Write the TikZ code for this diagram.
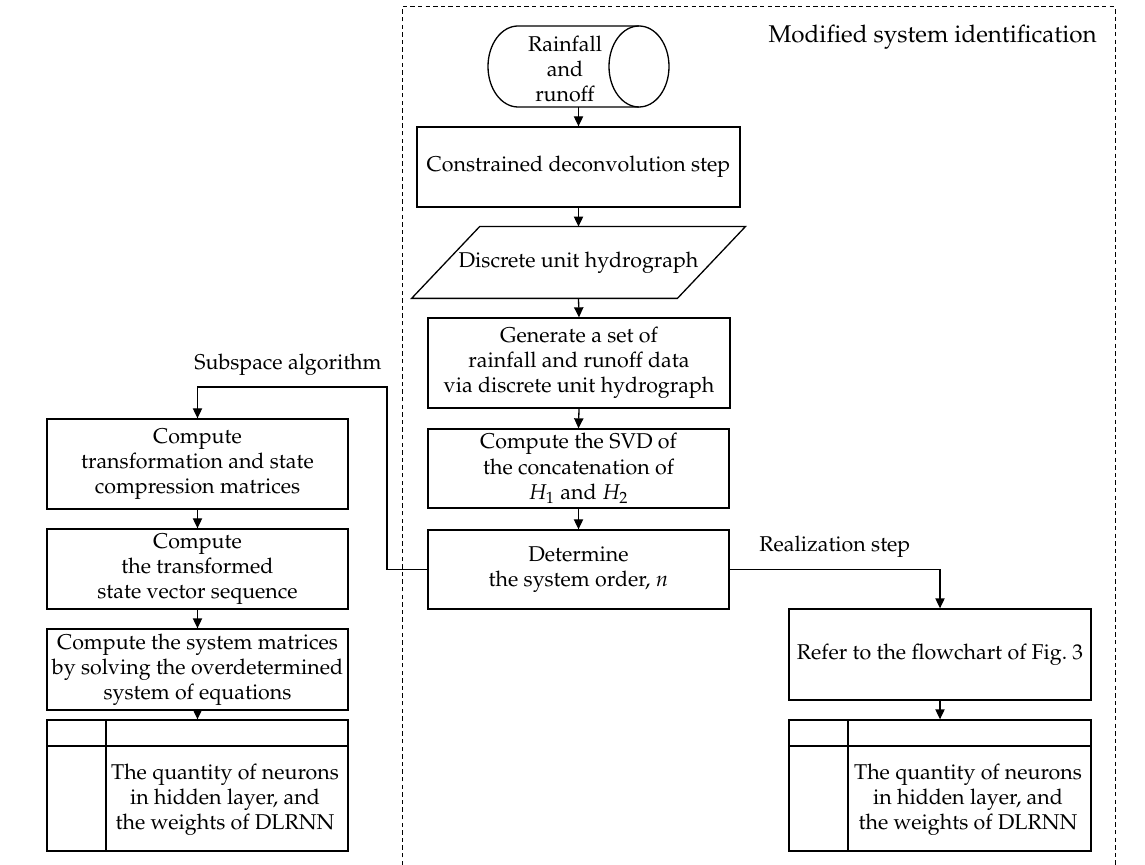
\documentclass[tikz,border=0pt]{standalone}
\usepackage[T1]{fontenc}
\usepackage{mathpazo}
\usetikzlibrary{arrows.meta,calc}
\begin{document}
\begin{tikzpicture}[x=0.5pt,y=-0.5pt,
  every node/.style={font=\fontsize{10.7}{12.6}\selectfont, align=center, inner sep=0pt},
  box/.style={draw, line width=0.65pt, minimum width=#1},
  box/.default=150.5pt,
  arr/.style={line width=0.65pt, -{Triangle[length=5pt,width=4.6pt]}},
  link/.style={line width=0.65pt},
  frame/.style={line width=0.5pt, dash pattern=on 2.2pt off 1.6pt},
  tag/.style={font=\fontsize{10.7}{13}\selectfont}]
\useasboundingbox (0,0) rectangle (1145,865);

% dashed frame of the identification part
\draw[frame] (402,865) -- (402,7) -- (1115,7) -- (1115,865);
\node[font=\fontsize{12.1}{15}\selectfont, anchor=base east] (title) at (1097,43) {Modified system identification};

% data source drawn as a lying cylinder
\draw[link] (639,26) -- (518,26) arc[start angle=90, end angle=270, x radius=15pt, y radius=20.25pt] -- (639,107);
\draw[link] (639,66.5) ellipse[x radius=15pt, y radius=20.25pt];
\node (src) at (565,69) {Rainfall\\and\\runoff};
\coordinate (srcb) at (578.5,107);

% main column
\node[box=161.5pt, minimum height=40pt] (deconv) at (578.5,167) {Constrained deconvolution step};
\node[minimum width=166.5pt, minimum height=35.5pt] (hyd) at (578.5,262.5) {Discrete unit hydrograph};
\draw[link] ($(hyd.north west)+(68,0)$) -- (hyd.north east) -- ($(hyd.south east)-(68,0)$) -- (hyd.south west) -- cycle;
\node[box=151pt, minimum height=45pt] (gen) at (579,363) {Generate a set of\\rainfall and runoff data\\via discrete unit hydrograph};
\node[box, minimum height=39.5pt] (svd) at (578.5,468.5) {Compute the SVD of\\the concatenation of\\$H_1$ and $H_2$};
\node[box, minimum height=39.5pt] (det) at (578.5,569.5) {Determine\\the system order, $n$};

% subspace algorithm column
\node[box, minimum height=45pt] (trans) at (197.5,464) {Compute\\transformation and state\\compression matrices};
\node[box, minimum height=40pt] (seq) at (197.5,569) {Compute\\the transformed\\state vector sequence};
\node[box, minimum height=40.5pt] (mats) at (197.5,669.5) {Compute the system matrices\\by solving the overdetermined\\system of equations};
\node[box, minimum height=65.5pt] (outl) at (197.5,785.5) {};
\draw[link] (47,746) -- (348,746) (106,720) -- (106,851);
\node (outltxt) at (225,800) {The quantity of neurons\\in hidden layer, and\\the weights of DLRNN};

% realization column
\node[box=151pt, minimum height=45.5pt] (refer) at (940,654.5) {Refer to the flowchart of Fig.~3};
\node[box=151pt, minimum height=65.5pt] (outr) at (940,785.5) {};
\draw[link] (789,746) -- (1091,746) (848,720) -- (848,851);
\node (outrtxt) at (968,800) {The quantity of neurons\\in hidden layer, and\\the weights of DLRNN};

% branch labels
\node[tag, anchor=base east] (sublab) at (382,370) {Subspace algorithm};
\node[tag, anchor=base west] (reallab) at (759,552) {Realization step};

% connectors
\draw[arr] (srcb) -- (deconv.north);
\draw[arr] (deconv.south) -- (hyd.north);
\draw[arr] (hyd.south) -- (gen.north);
\draw[arr] (gen.south) -- (svd.north);
\draw[arr] (svd.south) -- (det.north);
\draw[arr] (det.west) -- (387,569.5) -- (387,387) -- (197.5,387) -- (trans.north);
\draw[arr] (trans.south) -- (seq.north);
\draw[arr] (seq.south) -- (mats.north);
\draw[arr] (mats.south) -- (outl.north);
\draw[arr] (det.east) -- (940,569.5) -- (refer.north);
\draw[arr] (refer.south) -- (outr.north);
\end{tikzpicture}
\end{document}
